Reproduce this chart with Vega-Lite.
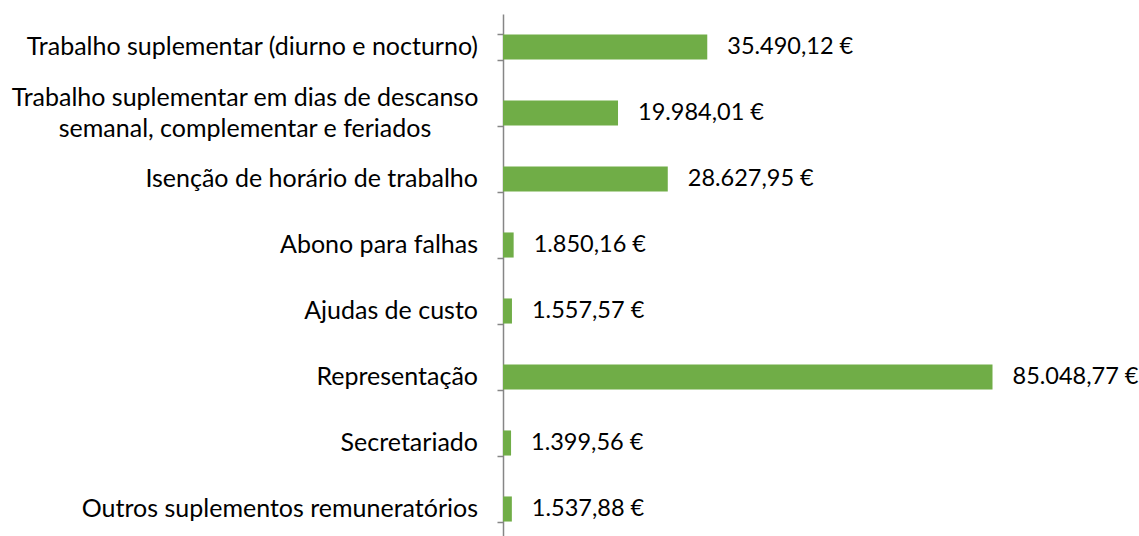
{
  "$schema": "https://vega.github.io/schema/vega-lite/v6.json",
  "autosize": {"type": "none"},
  "padding": {"left": 503, "top": 14, "right": 118, "bottom": 0},
  "width": 518,
  "height": 528,
  "config": {
    "view": {"stroke": null},
    "locale": {"number": {"decimal": ",", "thousands": ".", "grouping": [3], "currency": ["", " €"]}},
    "font": "Lato"
  },
  "data": {
    "values": [
      {"categoria": "Trabalho suplementar (diurno e nocturno)", "valor": 35490.12},
      {"categoria": "Trabalho suplementar em dias de descanso|semanal, complementar e feriados", "valor": 19984.01},
      {"categoria": "Isenção de horário de trabalho", "valor": 28627.95},
      {"categoria": "Abono para falhas", "valor": 1850.16},
      {"categoria": "Ajudas de custo", "valor": 1557.57},
      {"categoria": "Representação", "valor": 85048.77},
      {"categoria": "Secretariado", "valor": 1399.56},
      {"categoria": "Outros suplementos remuneratórios", "valor": 1537.88}
    ]
  },
  "encoding": {
    "y": {
      "field": "categoria",
      "type": "nominal",
      "sort": null,
      "scale": {"paddingInner": 0.62, "paddingOuter": 0.31},
      "axis": {
        "title": null,
        "labels": false,
        "tickBand": "extent",
        "tickSize": 6,
        "tickColor": "#868686",
        "domainColor": "#868686",
        "domainWidth": 1.5,
        "tickWidth": 1.5
      }
    },
    "x": {
      "field": "valor",
      "type": "quantitative",
      "scale": {"domain": [0, 90000]},
      "axis": null
    }
  },
  "layer": [
    {"mark": {"type": "bar", "color": "#70AD47"}},
    {
      "mark": {"type": "text", "align": "left", "baseline": "middle", "dx": 20, "fontSize": 23.5, "font": "Lato", "color": "#000000"},
      "encoding": {"text": {"field": "valor", "type": "quantitative", "format": "$,.2f"}}
    },
    {
      "transform": [{"filter": "indexof(datum.categoria, '|') < 0"}],
      "mark": {"type": "text", "align": "right", "baseline": "middle", "dx": -25, "fontSize": 25, "font": "Lato", "color": "#000000"},
      "encoding": {
        "x": {"datum": 0},
        "text": {"field": "categoria", "type": "nominal"}
      }
    },
    {
      "transform": [{"filter": "indexof(datum.categoria, '|') >= 0"}],
      "mark": {"type": "text", "align": "center", "baseline": "middle", "dx": -258, "dy": -15, "lineBreak": "|", "lineHeight": 31, "fontSize": 25, "font": "Lato", "color": "#000000"},
      "encoding": {
        "x": {"datum": 0},
        "text": {"field": "categoria", "type": "nominal"}
      }
    }
  ]
}
